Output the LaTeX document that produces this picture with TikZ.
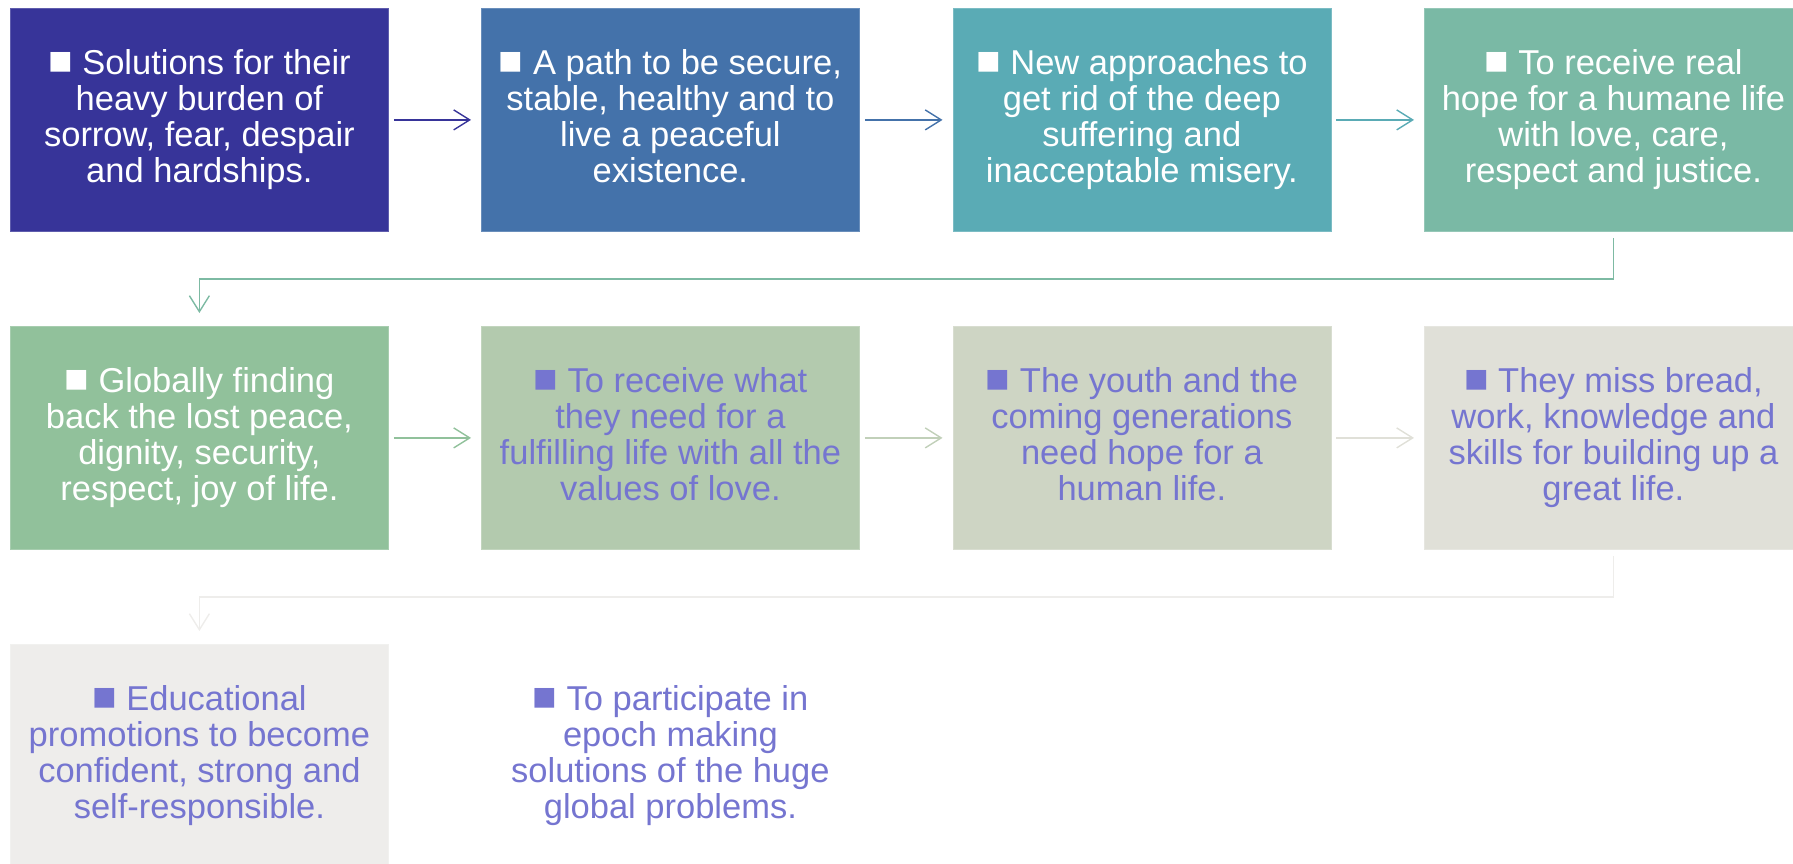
\documentclass[tikz,border=0pt]{standalone}
\usepackage{fontspec}
\usepackage{graphicx}
\setmainfont{Liberation Sans}
\usetikzlibrary{arrows.meta}
\definecolor{cA}{HTML}{373499}
\definecolor{cB}{HTML}{4472AA}
\definecolor{cC}{HTML}{5AABB5}
\definecolor{cD}{HTML}{7AB9A5}
\definecolor{cE}{HTML}{91C19B}
\definecolor{cF}{HTML}{B3CAAE}
\definecolor{cG}{HTML}{CED5C4}
\definecolor{cH}{HTML}{E0E0D8}
\definecolor{cI}{HTML}{EEEDEB}
\definecolor{ptext}{HTML}{7575D0}
\newcommand{\ts}{\vrule height 26pt depth 8pt width 0pt}
\newcommand{\bsq}{\scalebox{1.18}{■}}
\begin{document}
\begin{tikzpicture}[x=1pt,y=-1pt,
  box/.style={minimum width=378pt, minimum height=223pt, inner sep=0pt,
    anchor=north west, align=center, line width=0.8pt,
    font=\fontsize{34.5}{36}\selectfont},
  conn/.style={line width=1.4pt, -{Straight Barb[length=16pt,width=20pt]}}]
\useasboundingbox (0,0) rectangle (1793,864);
\clip (0,0) rectangle (1793,864);
% row 1
\node[box, fill=cA, draw=cA!80!white, text=white] (b1) at (10,8)
  {\ts\bsq{} Solutions for their\\heavy burden of\\sorrow, fear, despair\\and hardships.\ts};
\node[box, fill=cB, draw=cB!80!white, text=white] (b2) at (481,8)
  {\ts\bsq{} A path to be secure,\\stable, healthy and to\\live a peaceful\\existence.\ts};
\node[box, fill=cC, draw=cC!80!white, text=white] (b3) at (952.5,8)
  {\ts\bsq{} New approaches to\\get rid of the deep\\suffering and\\inacceptable misery.\ts};
\node[box, fill=cD, draw=cD!80!white, text=white] (b4) at (1424,8)
  {\ts\bsq{} To receive real\\hope for a humane life\\with love, care,\\respect and justice.\ts};
% row 2
\node[box, fill=cE, draw=cE!80!white, text=white] (b5) at (10,326)
  {\ts\bsq{} Globally finding\\back the lost peace,\\dignity, security,\\respect, joy of life.\ts};
\node[box, fill=cF, draw=cF!80!white, text=ptext] (b6) at (481,326)
  {\ts\bsq{} To receive what\\they need for a\\fulfilling life with all the\\values of love.\ts};
\node[box, fill=cG, draw=cG!80!white, text=ptext] (b7) at (952.5,326)
  {\ts\bsq{} The youth and the\\coming generations\\need hope for a\\human life.\ts};
\node[box, fill=cH, draw=cH!80!white, text=ptext] (b8) at (1424,326)
  {\ts\bsq{} They miss bread,\\work, knowledge and\\skills for building up a\\great life.\ts};
% row 3
\node[box, fill=cI, draw=cI!80!white, text=ptext] (b9) at (10,644)
  {\ts\bsq{} Educational\\promotions to become\\confident, strong and\\self-responsible.\ts};
\node[box, text=ptext] (b10) at (481,644)
  {\ts\bsq{} To participate in\\epoch making\\solutions of the huge\\global problems.\ts};
% connectors
\draw[conn, cA] ([xshift=5pt]b1.east) -- ([xshift=-10pt]b2.west);
\draw[conn, cB] ([xshift=5pt]b2.east) -- ([xshift=-10pt]b3.west);
\draw[conn, cC] ([xshift=5pt]b3.east) -- ([xshift=-10pt]b4.west);
\draw[conn, cD!85!cE] ([yshift=-6pt]b4.south) -- ++(0,41) -| ([yshift=13pt]b5.north);
\draw[conn, cE] ([xshift=5pt]b5.east) -- ([xshift=-10pt]b6.west);
\draw[conn, cF!50!cG] ([xshift=5pt]b6.east) -- ([xshift=-10pt]b7.west);
\draw[conn, cH] ([xshift=5pt]b7.east) -- ([xshift=-10pt]b8.west);
\draw[conn, cI] ([yshift=-6pt]b8.south) -- ++(0,41) -| ([yshift=13pt]b9.north);
\end{tikzpicture}
\end{document}
